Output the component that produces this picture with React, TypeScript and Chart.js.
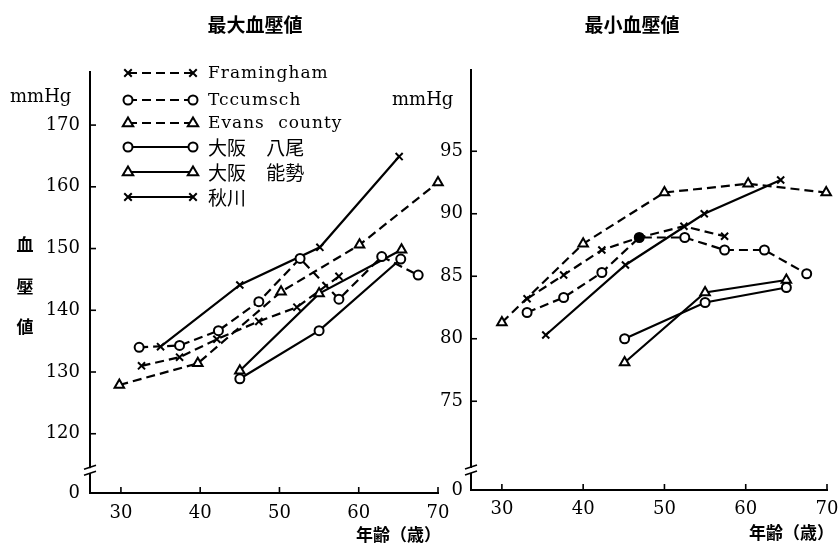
import React, { useEffect, useRef } from 'react';
import { Chart, registerables } from 'chart.js';
Chart.register(...registerables);

const SERIF = '"DejaVu Serif", "Liberation Serif", serif';
const CJK = '"Noto Sans CJK JP", "Noto Sans CJK SC", sans-serif';

// ---- series names ----
const seriesNames = ['Framingham', 'Tccumsch', 'Evans county', '大阪 八尾', '大阪 能勢', '秋川'];

// ---- 最大血壓値 (systolic) ----
const framinghamSysAge = [32.6, 37.4, 42.1, 47.4, 52.2, 57.5];
const framinghamSys = [131.0, 132.4, 135.3, 138.2, 140.5, 145.5];
const tccumschSysAge = [32.3, 37.4, 42.3, 47.4, 52.6, 57.5, 62.9, 67.5];
const tccumschSys = [134.0, 134.3, 136.7, 141.4, 148.4, 141.8, 148.7, 145.7];
const evansSysAge = [29.8, 39.7, 50.2, 60.1, 70.0];
const evansSys = [127.9, 131.4, 143.0, 150.6, 160.7];
const yaoSysAge = [45.0, 55.0, 65.3];
const yaoSys = [128.9, 136.7, 148.3];
const noseSysAge = [45.0, 55.0, 65.4];
const noseSys = [130.2, 142.7, 149.8];
const akikawaSysAge = [35.0, 45.0, 55.1, 65.1];
const akikawaSys = [134.1, 144.1, 150.2, 164.9];

// ---- 最小血壓値 (diastolic) ----
const framinghamDiaAge = [33.1, 37.6, 42.3, 46.9, 52.4, 57.4];
const framinghamDia = [83.2, 85.1, 87.1, 88.1, 89.0, 88.2];
const tccumschDiaAge = [33.1, 37.6, 42.3, 46.9, 52.5, 57.4, 62.3, 67.5];
const tccumschDia = [82.1, 83.3, 85.3, 88.1, 88.1, 87.1, 87.1, 85.2];
const evansDiaAge = [30.0, 40.0, 50.0, 60.3, 69.9];
const evansDia = [81.3, 87.6, 91.7, 92.4, 91.7];
const yaoDiaAge = [45.1, 55.0, 65.0];
const yaoDia = [80.0, 82.9, 84.1];
const noseDiaAge = [45.1, 55.0, 65.0];
const noseDia = [78.1, 83.7, 84.7];
const akikawaDiaAge = [35.4, 45.2, 54.9, 64.3];
const akikawaDia = [80.3, 85.9, 90.0, 92.7];

// ---- ticks / axis ranges ----
const ageTicks = [30, 40, 50, 60, 70];
const sysTicks = [120, 130, 140, 150, 160, 170];
const diaTicks = [75, 80, 85, 90, 95];
const sysZeroAt = 110.4; // broken-axis "0"
const diaZeroAt = 67.9;
const sysBreak = 114.1;
const diaBreak = 69.5;

// ---- styles ----
const dashed = [true, true, true, false, false, false];
const pStyles = ['crossRot', 'circle', 'triangle', 'circle', 'triangle', 'crossRot'];
const pRadius = [5, 4.5, 5.5, 4.5, 5.5, 5];

function makeDs(idx: number, ages: number[], vals: number[], filled: number[] = []) {
  return {
    label: seriesNames[idx],
    data: ages.map((a, i) => ({ x: a, y: vals[i] })),
    borderColor: '#000',
    borderWidth: 2.2,
    borderDash: dashed[idx] ? [9, 5] : [],
    pointStyle: pStyles[idx],
    pointRadius: pRadius[idx],
    pointBorderWidth: 2,
    pointBorderColor: '#000',
    pointBackgroundColor: ages.map((_, i) => (filled.includes(i) ? '#000' : '#fff')),
    fill: false,
    tension: 0,
    clip: false,
  };
}

function drawMarker(ctx: CanvasRenderingContext2D, style: string, x: number, y: number, r: number) {
  ctx.beginPath();
  if (style === 'circle') {
    ctx.arc(x, y, r, 0, Math.PI * 2);
    ctx.fillStyle = '#fff';
    ctx.fill();
    ctx.stroke();
  } else if (style === 'triangle') {
    ctx.moveTo(x, y - r);
    ctx.lineTo(x + r * 0.95, y + r * 0.6);
    ctx.lineTo(x - r * 0.95, y + r * 0.6);
    ctx.closePath();
    ctx.fillStyle = '#fff';
    ctx.fill();
    ctx.stroke();
  } else {
    const d = r * 0.75;
    ctx.moveTo(x - d, y - d);
    ctx.lineTo(x + d, y + d);
    ctx.moveTo(x + d, y - d);
    ctx.lineTo(x - d, y + d);
    ctx.stroke();
  }
}

const decorPlugin = {
  id: 'decor',
  afterDraw(chart: any, _args: any, opts: any) {
    const ctx: CanvasRenderingContext2D = chart.ctx;
    const { left, bottom } = chart.chartArea;
    const xs = chart.scales.x;
    const ys = chart.scales.y;
    ctx.save();
    ctx.strokeStyle = '#000';
    ctx.lineWidth = 1.6;
    ctx.setLineDash([]);
    // inward tick marks
    xs.ticks.forEach((t: any) => {
      const px = xs.getPixelForValue(t.value);
      ctx.beginPath();
      ctx.moveTo(px, bottom);
      ctx.lineTo(px, bottom - 6);
      ctx.stroke();
    });
    ys.ticks.forEach((t: any, i: number) => {
      if (i === 0) return;
      const py = ys.getPixelForValue(t.value);
      ctx.beginPath();
      ctx.moveTo(left, py);
      ctx.lineTo(left + 6, py);
      ctx.stroke();
    });
    // axis break
    const by = ys.getPixelForValue(opts.breakValue);
    ctx.fillStyle = '#fff';
    ctx.fillRect(left - 3, by - 2, 6, 5);
    ctx.beginPath();
    ctx.moveTo(left - 6, by - 1);
    ctx.lineTo(left + 6, by - 5);
    ctx.moveTo(left - 6, by + 5);
    ctx.lineTo(left + 6, by + 1);
    ctx.stroke();
    // texts
    ctx.fillStyle = '#000';
    ctx.textBaseline = 'middle';
    (opts.texts || []).forEach((t: any) => {
      ctx.font = t.font;
      ctx.textAlign = t.align || 'left';
      (ctx as any).letterSpacing = t.ls || '0px';
      (ctx as any).wordSpacing = t.ws || '0px';
      ctx.fillText(t.text, t.x, t.y);
    });
    // legend
    if (opts.legend) {
      const L = opts.legend;
      chart.data.datasets.forEach((d: any, i: number) => {
        const y = L.rows[i];
        ctx.setLineDash(d.borderDash || []);
        ctx.lineWidth = 2.2;
        ctx.beginPath();
        ctx.moveTo(L.x1, y);
        ctx.lineTo(L.x2, y);
        ctx.stroke();
        ctx.setLineDash([]);
        ctx.lineWidth = 2;
        drawMarker(ctx, d.pointStyle, L.x1, y, d.pointRadius);
        drawMarker(ctx, d.pointStyle, L.x2, y, d.pointRadius);
        const isLatin = /^[A-Za-z ]+$/.test(d.label);
        ctx.fillStyle = '#000';
        ctx.textAlign = 'left';
        ctx.font = isLatin ? `17px ${SERIF}` : `19px ${CJK}`;
        (ctx as any).letterSpacing = isLatin ? '1px' : '0px';
        (ctx as any).wordSpacing = isLatin ? '7px' : '16px';
        ctx.fillText(d.label, L.tx, y + 1);
      });
    }
    ctx.restore();
  },
};

function buildConfig(p: any) {
  return {
    type: 'line',
    data: { datasets: p.datasets },
    plugins: [decorPlugin],
    options: {
      responsive: false,
      animation: false,
      events: [],
      layout: { padding: p.padding },
      plugins: {
        legend: { display: false },
        tooltip: { enabled: false },
        title: { display: false },
        decor: p.decor,
      },
      scales: {
        x: {
          type: 'linear',
          min: p.xMin,
          max: p.xMax,
          grid: { display: false, drawTicks: false },
          border: { display: true, color: '#000', width: 2 },
          afterBuildTicks: (s: any) => {
            s.ticks = ageTicks.map((v) => ({ value: v }));
          },
          afterFit: (s: any) => {
            s.height = p.xHeight;
            s.paddingLeft = 0;
            s.paddingRight = 0;
          },
          ticks: {
            color: '#000',
            font: { family: SERIF, size: 18 },
            padding: p.xPad,
            maxRotation: 0,
            autoSkip: false,
          },
        },
        y: {
          type: 'linear',
          min: p.yMin,
          max: p.yMax,
          grid: { display: false, drawTicks: false },
          border: { display: true, color: '#000', width: 2 },
          afterBuildTicks: (s: any) => {
            s.ticks = [p.yMin, ...p.yTicks].map((v: number) => ({ value: v }));
          },
          afterFit: (s: any) => {
            s.width = p.yWidth;
            s.paddingTop = 0;
            s.paddingBottom = 0;
          },
          ticks: {
            color: '#000',
            font: { family: SERIF, size: 18 },
            padding: p.yPad,
            autoSkip: false,
            callback: (v: number) => (v === p.yMin ? '0' : String(v)),
          },
        },
      },
    },
  };
}

export default function App() {
  const leftRef = useRef<HTMLCanvasElement>(null);
  const rightRef = useRef<HTMLCanvasElement>(null);

  useEffect(() => {
    const leftCfg = buildConfig({
      datasets: [
        makeDs(0, framinghamSysAge, framinghamSys),
        makeDs(1, tccumschSysAge, tccumschSys),
        makeDs(2, evansSysAge, evansSys),
        makeDs(3, yaoSysAge, yaoSys),
        makeDs(4, noseSysAge, noseSys),
        makeDs(5, akikawaSysAge, akikawaSys),
      ],
      padding: { left: 0, top: 72, right: 12, bottom: 0 },
      xMin: 26.1,
      xMax: 70,
      yMin: sysZeroAt,
      yMax: 178.6,
      yTicks: sysTicks,
      xHeight: 59,
      yWidth: 90,
      xPad: 10,
      yPad: 10,
      decor: {
        breakValue: sysBreak,
        texts: [
          { text: '最大血壓値', x: 255, y: 25, font: `bold 19px ${CJK}`, align: 'center' },
          { text: 'mmHg', x: 10, y: 97, font: `18px ${SERIF}` },
          { text: '血', x: 25, y: 245, font: `bold 17px ${CJK}`, align: 'center' },
          { text: '壓', x: 25, y: 287, font: `bold 17px ${CJK}`, align: 'center' },
          { text: '値', x: 25, y: 327, font: `bold 17px ${CJK}`, align: 'center' },
          { text: '年齢（歳）', x: 356, y: 535, font: `bold 17px ${CJK}` },
        ],
        legend: { x1: 128, x2: 193, tx: 208, rows: [73, 100, 123, 147, 172, 197] },
      },
    });
    const rightCfg = buildConfig({
      datasets: [
        makeDs(0, framinghamDiaAge, framinghamDia),
        makeDs(1, tccumschDiaAge, tccumschDia, [3]),
        makeDs(2, evansDiaAge, evansDia),
        makeDs(3, yaoDiaAge, yaoDia),
        makeDs(4, noseDiaAge, noseDia),
        makeDs(5, akikawaDiaAge, akikawaDia),
      ],
      padding: { left: 0, top: 70, right: 13, bottom: 0 },
      xMin: 26.2,
      xMax: 70,
      yMin: diaZeroAt,
      yMax: 101.5,
      yTicks: diaTicks,
      xHeight: 62,
      yWidth: 86,
      xPad: 9,
      yPad: 8,
      decor: {
        breakValue: diaBreak,
        texts: [
          { text: '最小血壓値', x: 247, y: 25, font: `bold 19px ${CJK}`, align: 'center' },
          { text: 'mmHg', x: 7, y: 100, font: `18px ${SERIF}` },
          { text: '年齢（歳）', x: 364, y: 533, font: `bold 17px ${CJK}` },
        ],
      },
    });
    const c1 = new Chart(leftRef.current as HTMLCanvasElement, leftCfg as any);
    const c2 = new Chart(rightRef.current as HTMLCanvasElement, rightCfg as any);
    return () => {
      c1.destroy();
      c2.destroy();
    };
  }, []);

  return (
    <div
      style={{
        position: 'fixed',
        left: 0,
        top: 0,
        width: 840,
        height: 552,
        background: '#fff',
        overflow: 'hidden',
      }}
    >
      <canvas ref={leftRef} width={450} height={552} style={{ position: 'absolute', left: 0, top: 0 }} />
      <canvas ref={rightRef} width={455} height={552} style={{ position: 'absolute', left: 385, top: 0 }} />
    </div>
  );
}
